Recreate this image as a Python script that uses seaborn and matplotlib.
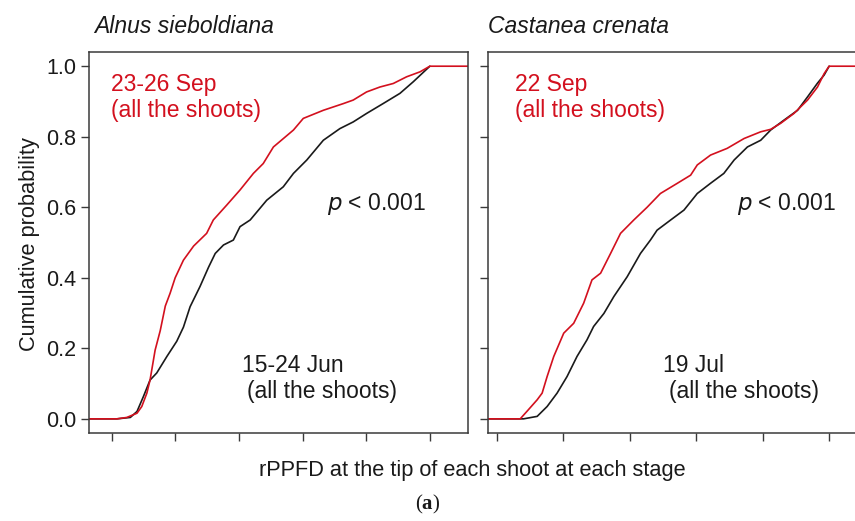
#!/usr/bin/env python

import pandas as pd
import matplotlib
matplotlib.use("Agg")
import matplotlib.pyplot as plt
import numpy as np
import seaborn as sns

# cumulative curves (x = relative position on the rPPFD axis)
alnus_sep_x = [-0.08, 0.016, 0.047, 0.079, 0.094, 0.110, 0.120, 0.136, 0.152, 0.168, 0.183, 0.199,
               0.225, 0.257, 0.298, 0.319, 0.361, 0.403, 0.445, 0.476, 0.508, 0.571, 0.602,
               0.665, 0.728, 0.759, 0.801, 0.843, 0.885, 0.927, 0.969, 1.0, 1.13]
alnus_sep_y = [0.0, 0.0, 0.004, 0.016, 0.035, 0.073, 0.11, 0.195, 0.25, 0.32, 0.356, 0.40,
               0.45, 0.49, 0.526, 0.564, 0.606, 0.649, 0.696, 0.724, 0.771, 0.819, 0.852,
               0.875, 0.894, 0.904, 0.927, 0.941, 0.951, 0.97, 0.984, 1.0, 1.0]
alnus_jun_x = [-0.08, 0.016, 0.058, 0.079, 0.099, 0.120, 0.141, 0.173, 0.204, 0.225, 0.246, 0.277,
               0.304, 0.325, 0.351, 0.382, 0.403, 0.435, 0.487, 0.539, 0.571, 0.613, 0.665,
               0.717, 0.759, 0.801, 0.853, 0.906, 0.948, 1.0]
alnus_jun_y = [0.0, 0.0, 0.004, 0.021, 0.063, 0.11, 0.13, 0.177, 0.22, 0.26, 0.318, 0.375,
               0.43, 0.469, 0.493, 0.507, 0.545, 0.564, 0.62, 0.658, 0.696, 0.734, 0.79,
               0.823, 0.842, 0.866, 0.894, 0.923, 0.956, 1.0]

cast_sep_x = [-0.04, 0.070, 0.090, 0.121, 0.136, 0.151, 0.171, 0.201, 0.231, 0.261, 0.286, 0.312,
              0.342, 0.372, 0.412, 0.452, 0.492, 0.543, 0.583, 0.603, 0.643, 0.693, 0.744,
              0.794, 0.824, 0.854, 0.894, 0.935, 0.965, 0.985, 1.0, 1.13]
cast_sep_y = [0.0, 0.0, 0.021, 0.054, 0.073, 0.12, 0.177, 0.243, 0.271, 0.328, 0.394, 0.413,
              0.469, 0.526, 0.564, 0.60, 0.639, 0.668, 0.691, 0.72, 0.748, 0.767, 0.795,
              0.814, 0.821, 0.838, 0.866, 0.904, 0.941, 0.979, 1.0, 1.0]
cast_jul_x = [-0.04, 0.080, 0.121, 0.151, 0.181, 0.211, 0.241, 0.271, 0.291, 0.322, 0.352, 0.392,
              0.432, 0.462, 0.482, 0.523, 0.563, 0.603, 0.643, 0.683, 0.714, 0.754, 0.794,
              0.824, 0.864, 0.905, 0.935, 0.965, 0.985, 1.0]
cast_jul_y = [0.0, 0.0, 0.007, 0.035, 0.073, 0.12, 0.177, 0.224, 0.262, 0.299, 0.347, 0.403,
              0.469, 0.507, 0.535, 0.564, 0.592, 0.639, 0.668, 0.696, 0.734, 0.771, 0.79,
              0.819, 0.847, 0.875, 0.913, 0.952, 0.975, 1.0]

species = ["Alnus sieboldiana", "Castanea crenata"]
late_labels = ["23-26 Sep", "22 Sep"]
early_labels = ["15-24 Jun", "19 Jul"]
yticks = [0.0, 0.2, 0.4, 0.6, 0.8, 1.0]
xticks = [0.0, 0.2, 0.4, 0.6, 0.8, 1.0]

sns.set_style("ticks")
plt.rcParams["font.family"] = ["Liberation Sans", "DejaVu Sans"]
plt.rcParams["mathtext.fontset"] = "custom"
plt.rcParams["mathtext.rm"] = "Liberation Serif"
plt.rcParams["mathtext.bf"] = "Liberation Serif:bold"

RED = "#d3101e"
INK = "#1a1a1a"

fig = plt.figure(figsize=(8.55, 5.21), dpi=100)
ax1 = fig.add_axes([89 / 855, 0.169, 379 / 855, 0.731])
ax2 = fig.add_axes([488 / 855, 0.169, 379 / 855, 0.731])

panels = [
    (ax1, alnus_jun_x, alnus_jun_y, alnus_sep_x, alnus_sep_y, (-0.072, 1.12)),
    (ax2, cast_jul_x, cast_jul_y, cast_sep_x, cast_sep_y, (-0.027, 1.114)),
]

for i, (ax, ex, ey, lx, ly, xl) in enumerate(panels):
    d_early = pd.DataFrame({"x": ex, "y": ey})
    d_late = pd.DataFrame({"x": lx, "y": ly})
    sns.lineplot(data=d_early, x="x", y="y", ax=ax, color=INK, lw=1.2,
                 sort=False, estimator=None)
    sns.lineplot(data=d_late, x="x", y="y", ax=ax, color=RED, lw=1.2,
                 sort=False, estimator=None)
    ax.set_xlim(*xl)
    ax.set_ylim(-0.04, 1.04)
    ax.set_xticks(xticks)
    ax.set_xticklabels([])
    ax.set_yticks(yticks)
    if i == 0:
        ax.set_yticklabels(["%.1f" % t for t in yticks])
    else:
        ax.set_yticklabels([])
    ax.set_xlabel("")
    ax.set_ylabel("")
    for s in ax.spines.values():
        s.set_visible(True)
        s.set_color("#3a3a3a")
        s.set_linewidth(1.1)
    ax.tick_params(direction="out", length=6, width=1.0, color="#3a3a3a",
                   labelsize=15.5, pad=3, labelcolor=INK)

# panel annotations
ax1.text(-0.003, 0.929, late_labels[0], color=RED, fontsize=16.5, va="baseline")
ax1.text(-0.003, 0.856, "(all the shoots)", color=RED, fontsize=16.5, va="baseline")
ax1.text(0.676, 0.592, "$\\it{p}$ < 0.001", color=INK, fontsize=16.5, va="baseline")
ax1.text(0.409, 0.134, early_labels[0], color=INK, fontsize=16.5, va="baseline")
ax1.text(0.425, 0.059, "(all the shoots)", color=INK, fontsize=16.5, va="baseline")

ax2.text(0.054, 0.929, late_labels[1], color=RED, fontsize=16.5, va="baseline")
ax2.text(0.054, 0.856, "(all the shoots)", color=RED, fontsize=16.5, va="baseline")
ax2.text(0.723, 0.592, "$\\it{p}$ < 0.001", color=INK, fontsize=16.5, va="baseline")
ax2.text(0.50, 0.134, early_labels[1], color=INK, fontsize=16.5, va="baseline")
ax2.text(0.518, 0.059, "(all the shoots)", color=INK, fontsize=16.5, va="baseline")

fig.text(94 / 855, 0.937, species[0], style="italic", fontsize=16.5, color=INK, va="baseline")
fig.text(488 / 855, 0.937, species[1], style="italic", fontsize=16.5, color=INK, va="baseline")
fig.text(0.035, 0.532, "Cumulative probability", rotation=90, fontsize=15.7,
         color=INK, ha="center", va="center")
fig.text(472 / 855, 0.096, "rPPFD at the tip of each shoot at each stage", fontsize=15.7,
         color=INK, ha="center", va="center")
fig.text(428 / 855, 0.031, r"$\mathrm{(}\mathbf{a}\mathrm{)}$", fontsize=15,
         color=INK, ha="center", va="center")

plt.savefig("out.png", dpi=100)
